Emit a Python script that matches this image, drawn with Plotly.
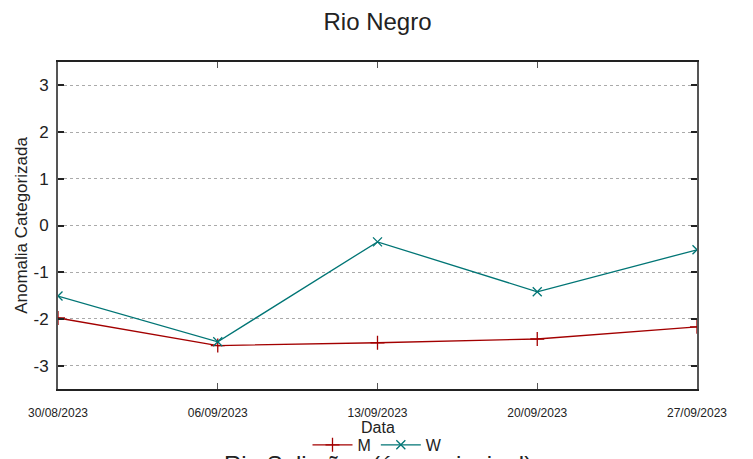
import plotly.graph_objects as go

dates = ["2023-08-30", "2023-09-06", "2023-09-13", "2023-09-20", "2023-09-27"]
tick_labels = ["30/08/2023", "06/09/2023", "13/09/2023", "20/09/2023", "27/09/2023"]
m_values = [-1.98, -2.57, -2.51, -2.43, -2.17]
w_values = [-1.51, -2.49, -0.35, -1.42, -0.52]
y_ticks = [-3, -2, -1, 0, 1, 2, 3]
y_tick_labels = ["-3", "-2", "-1", "0", "1", "2", "3"]

RED = "#a30000"
TEAL = "#007575"

fig = go.Figure()
fig.add_trace(go.Scatter(
    x=dates, y=m_values, name="M", mode="lines+markers",
    line=dict(color=RED, width=1.3),
    marker=dict(symbol="cross-thin", size=10, line=dict(color=RED, width=1.3)),
))
fig.add_trace(go.Scatter(
    x=dates, y=w_values, name="W", mode="lines+markers",
    line=dict(color=TEAL, width=1.3),
    marker=dict(symbol="x-thin", size=9, line=dict(color=TEAL, width=1.3)),
))

fig.update_layout(
    width=753, height=459,
    margin=dict(l=50, r=64, t=54, b=78, autoexpand=False),
    paper_bgcolor="white", plot_bgcolor="white",
    font=dict(family="Liberation Sans, Arial, sans-serif", color="#222222"),
    title=dict(text="Rio Negro", x=0.5, xanchor="center", xref="paper",
               y=1 - 14 / 459, yref="container", yanchor="middle",
               font=dict(size=24, color="#222222")),
    showlegend=True,
    legend=dict(orientation="h", x=0.5, xanchor="center", y=-0.171, yanchor="middle",
                font=dict(size=16), bgcolor="rgba(0,0,0,0)", itemwidth=40),
    annotations=[
        dict(text="Data", x=0.5, xref="paper", y=-0.119, yref="paper",
             xanchor="center", yanchor="middle", showarrow=False,
             font=dict(size=16)),
        dict(text="Rio Solimões (área principal)", x=0.5, xref="paper", y=-0.184, yref="paper",
             xanchor="center", yanchor="top", showarrow=False,
             font=dict(size=24)),
    ],
)

fig.update_xaxes(
    type="date",
    range=[dates[0], dates[-1]],
    tickvals=dates, ticktext=tick_labels,
    ticks="inside", ticklen=6, tickcolor="#555555", tickwidth=1,
    showline=True, linecolor="#222222", linewidth=1.5, mirror="ticks",
    showgrid=False, zeroline=False, automargin=False,
    tickfont=dict(size=12, color="#222222"),
    ticklabelstandoff=12,
)
fig.update_yaxes(
    range=[-3.5, 3.5],
    tickvals=y_ticks, ticktext=y_tick_labels,
    ticks="inside", ticklen=6, tickcolor="#222222", tickwidth=1.5,
    showline=True, linecolor="#555555", linewidth=2, mirror="ticks",
    showgrid=True, gridcolor="#aaaaaa", griddash="dot", gridwidth=1,
    zeroline=False, automargin=False,
    tickfont=dict(size=17, color="#222222"),
    ticklabelstandoff=4,
    title=dict(text="Anomalia Categorizada", font=dict(size=17), standoff=2),
)

fig.write_html("out.html")
